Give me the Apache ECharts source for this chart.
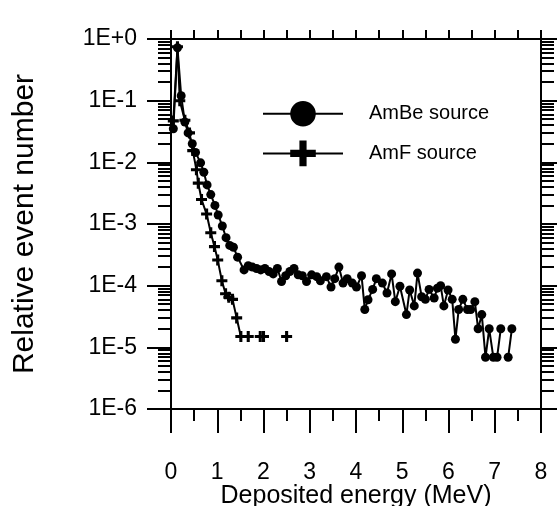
<!DOCTYPE html>
<html>
<head>
<meta charset="utf-8">
<script src="https://cdn.jsdelivr.net/npm/echarts@6/dist/echarts.min.js"></script>
<style>
  html, body { margin: 0; padding: 0; background: #fff; }
  #chart { width: 557px; height: 506px; }
</style>
</head>
<body>
<div id="chart"></div>
<script>
// AmBe source (circles)
var ambeX = [0.05, 0.14, 0.22, 0.30, 0.37, 0.46, 0.53, 0.64, 0.71, 0.78, 0.86, 0.95, 1.02, 1.11, 1.19, 1.27, 1.35, 1.44,
  1.58, 1.67, 1.76, 1.85, 1.94, 2.03, 2.12, 2.21, 2.30, 2.39, 2.48, 2.57, 2.66, 2.75, 2.84, 2.93, 3.04, 3.15, 3.23,
  3.36, 3.46, 3.54, 3.63, 3.72, 3.81, 3.92, 4.01, 4.12, 4.19, 4.26, 4.36, 4.44, 4.57, 4.67, 4.77, 4.85, 4.95, 5.09,
  5.16, 5.26, 5.33, 5.42, 5.50, 5.58, 5.69, 5.76, 5.83, 5.90, 5.99, 6.08, 6.15, 6.22, 6.31, 6.41, 6.48, 6.57, 6.64,
  6.72, 6.80, 6.88, 6.97, 7.05, 7.13, 7.21, 7.29, 7.37];
var ambeY = [3.5e-2, 7.2e-1, 1.2e-1, 4.5e-2, 3.0e-2, 2.0e-2, 1.45e-2, 9.8e-3, 6.9e-3, 4.3e-3, 3.0e-3, 2.0e-3, 1.4e-3,
  9.3e-4, 6.0e-4, 4.5e-4, 4.2e-4, 2.9e-4,
  1.8e-4, 2.1e-4, 2.0e-4, 1.9e-4, 1.8e-4, 1.9e-4, 1.7e-4, 1.55e-4, 1.9e-4, 1.17e-4, 1.45e-4, 1.7e-4, 1.9e-4, 1.5e-4,
  1.45e-4, 1.17e-4, 1.5e-4, 1.4e-4, 1.2e-4,
  1.4e-4, 9.5e-5, 1.3e-4, 2.0e-4, 1.1e-4, 1.3e-4, 1.1e-4, 9.5e-5, 1.45e-4, 4.1e-5, 5.9e-5, 8.7e-5, 1.3e-4, 1.1e-4,
  7.6e-5, 1.55e-4, 5.5e-5, 9.8e-5, 3.4e-5,
  8.5e-5, 4.7e-5, 1.6e-4, 6.6e-5, 6.0e-5, 8.7e-5, 6.3e-5, 9.1e-5, 1.0e-4, 4.7e-5, 8.5e-5, 6.0e-5, 1.35e-5, 4.1e-5,
  6.0e-5, 4.1e-5, 4.1e-5, 5.5e-5, 2.0e-5,
  3.4e-5, 6.9e-6, 2.0e-5, 6.9e-6, 6.9e-6, 2.0e-5, null, 6.9e-6, 2.0e-5];

// AmF source (crosses)
var amfX = [0.05, 0.14, 0.19, 0.30, 0.40, 0.47, 0.55, 0.59, 0.66, 0.77, 0.86, 0.94, 1.01, 1.10, 1.18, 1.25, 1.33,
  1.42, 1.51, 1.67, 1.80, 1.93, 2.00, 2.25, 2.50];
var amfY = [4.7e-2, 7.5e-1, 1.0e-1, 4.8e-2, 3.0e-2, 1.55e-2, 7.6e-3, 4.6e-3, 2.5e-3, 1.45e-3, 7.2e-4, 4.3e-4, 2.6e-4,
  1.2e-4, 7.4e-5, 6.5e-5, 6.0e-5, 3.0e-5, 1.5e-5, 1.5e-5, null, 1.5e-5, 1.5e-5, null, 1.5e-5];

var seriesNames = ['AmBe source', 'AmF source'];
var decadeTicks = [1e-6, 1e-5, 1e-4, 1e-3, 1e-2, 1e-1, 1];
var minorTicks = [];
decadeTicks.slice(0, 6).forEach(function (d) {
  for (var k = 2; k <= 9; k++) minorTicks.push(d * k);
});

function pairs(xs, ys) {
  return xs.map(function (x, i) { return [x, ys[i] == null ? '-' : ys[i]]; });
}

var plusPath = 'path://M3.6,0H6.4V3.6H10V6.4H6.4V10H3.6V6.4H0V3.6H3.6Z';
var font = 'Liberation Sans, Arial, sans-serif';
var axisLine = { show: true, lineStyle: { color: '#000', width: 2 } };

var myChart = echarts.init(document.getElementById('chart'));

function logAxis(pos, ticks, len, showLine, showLabel) {
  return {
    type: 'log',
    logBase: 10,
    position: pos,
    min: 1e-6,
    max: 1,
    axisLine: showLine ? axisLine : { show: false },
    axisTick: { show: true, inside: false, length: len, customValues: ticks,
      lineStyle: { color: '#000', width: 2 } },
    axisLabel: showLabel ? {
      show: true, customValues: decadeTicks, margin: 34,
      color: '#000', fontSize: 23, fontFamily: font,
      formatter: function (v) {
        var e = Math.round(Math.log10(v));
        return '1E' + (e >= 0 ? '+' : '') + e;
      }
    } : { show: false },
    splitLine: { show: false }
  };
}

var yMain = logAxis('left', decadeTicks, 24, true, true);
yMain.name = 'Relative event number';
yMain.nameLocation = 'middle';
yMain.nameGap = 131;
yMain.nameMoveOverlap = false;
yMain.nameTextStyle = { color: '#000', fontSize: 30, fontFamily: font };

var option = {
  animation: false,
  backgroundColor: '#fff',
  grid: { left: 171, right: 16, top: 39, bottom: 97, outerBoundsMode: 'none' },
  legend: {
    orient: 'vertical',
    left: 257,
    top: 96,
    itemWidth: 80,
    itemHeight: 32,
    itemGap: 14,
    data: seriesNames,
    textStyle: { color: '#000', fontSize: 20, fontFamily: font, padding: [0, 0, 0, 21] }
  },
  xAxis: [
    {
      type: 'value',
      position: 'bottom',
      min: 0,
      max: 8,
      interval: 1,
      name: 'Deposited energy (MeV)',
      nameLocation: 'middle',
      nameGap: 75,
      nameMoveOverlap: false,
      nameTextStyle: { color: '#000', fontSize: 25, fontFamily: font },
      axisLine: axisLine,
      axisTick: { show: true, inside: false, length: 24, lineStyle: { color: '#000', width: 2 } },
      minorTick: { show: true, splitNumber: 2, length: 12, lineStyle: { color: '#000', width: 2 } },
      axisLabel: { color: '#000', fontSize: 23, fontFamily: font, margin: 52 },
      splitLine: { show: false }
    },
    {
      type: 'value',
      position: 'top',
      min: 0,
      max: 8,
      interval: 0.5,
      axisLine: axisLine,
      axisTick: { show: true, inside: false, length: 9, lineStyle: { color: '#000', width: 2 } },
      axisLabel: { show: false },
      splitLine: { show: false }
    }
  ],
  yAxis: [
    yMain,
    logAxis('left', minorTicks, 13, false, false),
    logAxis('right', decadeTicks, 24, true, false),
    logAxis('right', minorTicks, 13, false, false)
  ],
  series: [
    {
      name: seriesNames[0],
      type: 'line',
      xAxisIndex: 0,
      yAxisIndex: 0,
      data: pairs(ambeX, ambeY),
      symbol: 'circle',
      symbolSize: 9,
      connectNulls: false,
      lineStyle: { color: '#000', width: 2 },
      itemStyle: { color: '#000' },
      z: 3
    },
    {
      name: seriesNames[1],
      type: 'line',
      xAxisIndex: 0,
      yAxisIndex: 0,
      data: pairs(amfX, amfY),
      symbol: plusPath,
      symbolSize: 11,
      connectNulls: false,
      lineStyle: { color: '#000', width: 2 },
      itemStyle: { color: '#000' },
      z: 4
    }
  ]
};

myChart.setOption(option);
</script>
</body>
</html>
